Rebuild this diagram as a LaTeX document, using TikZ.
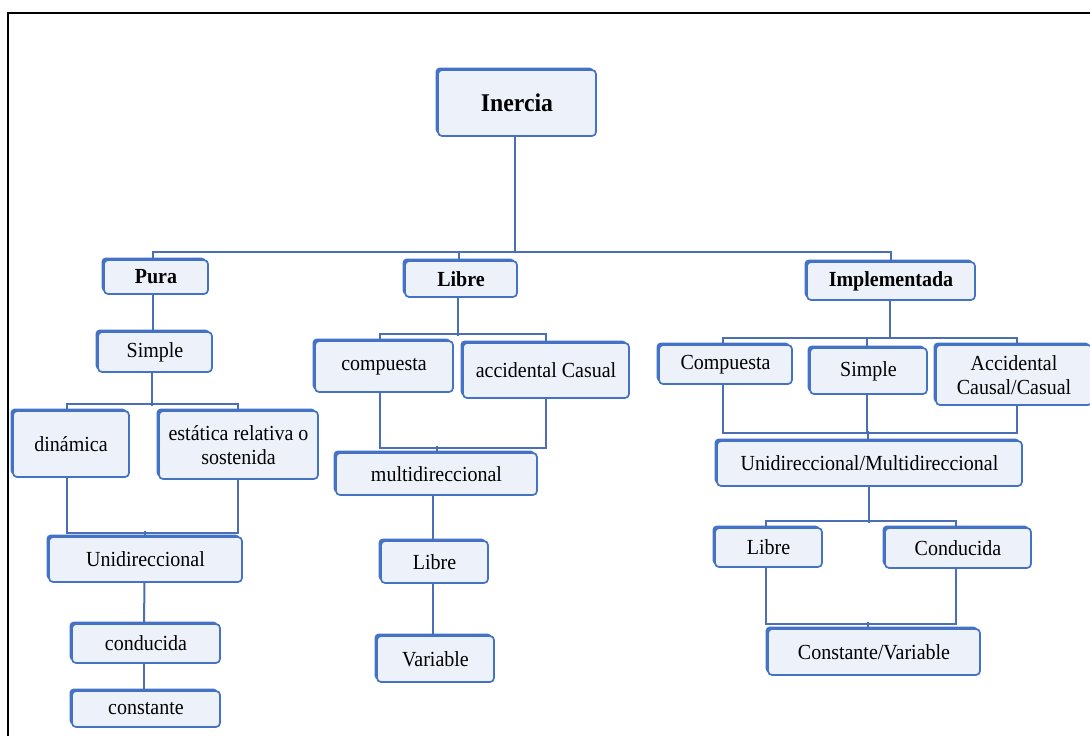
\documentclass[tikz,border=0pt]{standalone}
\usepackage{fontspec}
\setmainfont{Liberation Serif}[FakeStretch=0.93]
\usetikzlibrary{shadows}
\definecolor{boxblue}{HTML}{4472C4}
\definecolor{boxfill}{HTML}{EDF1FA}
\definecolor{linkblue}{HTML}{4A6FB5}
\tikzset{
  box/.style={draw=boxblue, line width=1.7pt, fill=boxfill, rounded corners=4pt,
    inner sep=2pt, align=center, text=black,
    font=\fontsize{21.5}{24}\selectfont,
    general shadow={fill=boxblue, shadow xshift=-2.4pt, shadow yshift=2.4pt}},
  boldbox/.style={box, font=\fontsize{21.5}{24}\selectfont\bfseries},
  link/.style={draw=linkblue, line width=2pt},
}
\begin{document}
\begin{tikzpicture}[x=1pt, y=-1pt]
\useasboundingbox (0,0) rectangle (1090,736);
% outer frame
\draw[line width=2.2pt] (8,736) -- (8,13) -- (1091,13);

% top
\node[boldbox, minimum width=158, minimum height=66, font=\fontsize{25.5}{28}\selectfont\bfseries] (inercia) at (517,103) {Inercia};
\node[boldbox, minimum width=104, minimum height=34] (pura) at (156,277) {Pura};
\node[boldbox, minimum width=112, minimum height=36] (libreA) at (461,279) {Libre};
\node[boldbox, minimum width=168, minimum height=38] (impl) at (891,281) {Implementada};

% left branch
\node[box, minimum width=114, minimum height=40] (simpleA) at (155,352) {Simple};
\node[box, minimum width=116, minimum height=66] (dinamica) at (71,444) {dinámica};
\node[box, minimum width=159, minimum height=68] (estatica) at (238.5,445) {estática relativa o\\sostenida};
\node[box, minimum width=193, minimum height=45] (uniA) at (145.5,559.5) {Unidireccional};
\node[box, minimum width=148, minimum height=39] (conducida) at (146,643.5) {conducida};
\node[box, minimum width=148, minimum height=36] (constante) at (146,709) {constante};

% middle branch
\node[box, minimum width=138, minimum height=51] (compuesta) at (384,366.5) {compuesta};
\node[box, minimum width=166, minimum height=55] (accidental) at (546,370.5) {accidental Casual};
\node[box, minimum width=201, minimum height=42] (multi) at (436.5,474) {multidireccional};
\node[box, minimum width=107, minimum height=42] (libreB) at (434.5,562) {Libre};
\node[box, minimum width=117, minimum height=46] (variable) at (435.5,659) {Variable};

% right branch
\node[box, minimum width=133, minimum height=39] (compuestaR) at (725.5,364.5) {Compuesta};
\node[box, minimum width=117, minimum height=46] (simpleR) at (868.5,371) {Simple};
\node[box, minimum width=156, minimum height=60] (accidentalR) at (1014,375) {Accidental\\Causal/Casual};
\node[box, minimum width=305, minimum height=45] (uniR) at (869.5,463.5) {Unidireccional/Multidireccional};
\node[box, minimum width=107, minimum height=39] (libreC) at (768.5,547.5) {Libre};
\node[box, minimum width=146, minimum height=40] (conducidaR) at (958,548) {Conducida};
\node[box, minimum width=212, minimum height=46] (cv) at (874,652) {Constante/Variable};

% connectors: first level
\coordinate (j1) at (515,253);
\draw[link] ([xshift=-2pt]inercia.south) -- ([xshift=-2pt]inercia.south |- j1);
\draw[link] ([xshift=-3pt]pura.north) -- ++(0,-7) -| (impl.north);
\draw[link] ([xshift=-2pt]libreA.north) -- ([xshift=-2pt]libreA.north |- j1);

% left branch connectors
\draw[link] ([xshift=-3pt]pura.south) -- ([xshift=-2pt]simpleA.north);
\draw[link] ([xshift=-3pt]simpleA.south) -- ++(0,33);
\draw[link] ([xshift=-4pt]dinamica.north) -- ++(0,-6) -| ([xshift=-1pt]estatica.north);
\draw[link] ([xshift=-4pt]dinamica.south) -- ++(0,55) -| ([xshift=-1pt]estatica.south);
\draw[link] ([xshift=-1pt]uniA.north) -- ++(0,-5);
\draw[link] ([xshift=-1pt]uniA.south) -- ([xshift=-2pt]conducida.north);
\draw[link] ([xshift=-2pt]conducida.south) -- ([xshift=-2pt]constante.north);

% middle branch connectors
\draw[link] ([xshift=-3pt]libreA.south) -- ++(0,38);
\draw[link] ([xshift=-4pt]compuesta.north) -- ++(0,-6) -| (accidental.north);
\draw[link] ([xshift=-4pt]compuesta.south) -- ++(0,55) -| (accidental.south);
\draw[link] (multi.north) -- ++(0,-6);
\draw[link] ([xshift=-4pt]multi.south) -- ([xshift=-2pt]libreB.north);
\draw[link] ([xshift=-2pt]libreB.south) -- ([xshift=-3pt]variable.north);

% right branch connectors
\draw[link] ([xshift=-1pt]impl.south) -- ++(0,38);
\draw[link] ([xshift=-3pt]compuestaR.north) -- ++(0,-6) -| ([xshift=3pt]accidentalR.north);
\draw[link] ([xshift=-2pt]simpleR.north) -- ++(0,-10);
\draw[link] ([xshift=-3pt]compuestaR.south) -- ++(0,48) -| ([xshift=3pt]accidentalR.south);
\draw[link] ([xshift=-2pt]simpleR.south) -- ++(0,38);
\draw[link] ([xshift=-2pt]uniR.north) -- ++(0,-9);
\draw[link] ([xshift=-1pt]uniR.south) -- ++(0,36);
\draw[link] ([xshift=-3pt]libreC.north) -- ++(0,-6) -| ([xshift=-2pt]conducidaR.north);
\draw[link] ([xshift=-3pt]libreC.south) -- ++(0,56) -| ([xshift=-2pt]conducidaR.south);
\draw[link] ([xshift=-6pt]cv.north) -- ++(0,-6);
\end{tikzpicture}
\end{document}
